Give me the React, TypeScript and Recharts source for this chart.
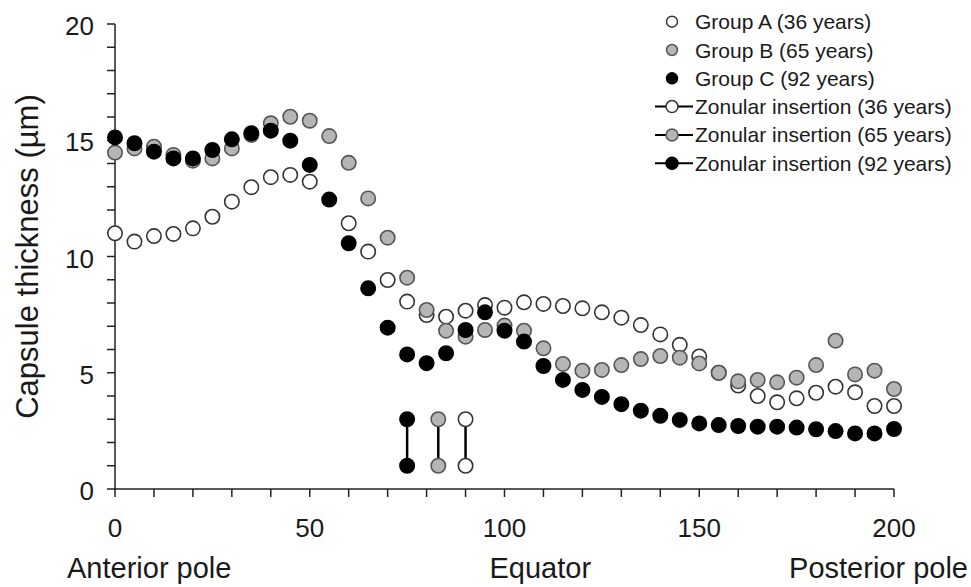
import { ScatterChart, Scatter, XAxis, YAxis } from "recharts"

// distance along the capsule, every 5 units
const positions = [
  0, 5, 10, 15, 20, 25, 30, 35, 40, 45, 50, 55, 60, 65, 70, 75, 80, 85, 90, 95, 100,
  105, 110, 115, 120, 125, 130, 135, 140, 145, 150, 155, 160, 165, 170, 175, 180,
  185, 190, 195, 200
]

const groupA: (number | null)[] = [
  11.0, 10.64, 10.88, 10.97, 11.21, 11.71, 12.36, 12.98, 13.41, 13.51, 13.22, null,
  11.43, 10.21, 8.99, 8.06, 7.48, 7.41, 7.67, 7.91, 7.8, 8.03, 7.96, 7.87, 7.77, 7.6,
  7.37, 7.05, 6.65, 6.2, 5.7, 5.0, 4.45, 4.0, 3.73, 3.9, 4.14, 4.4, 4.16, 3.57, 3.57
]

const groupB: (number | null)[] = [
  14.47, 14.65, 14.72, 14.37, 14.12, 14.22, 14.65, 15.23, 15.73, 16.01, 15.84, 15.18,
  14.03, 12.5, 10.81, 9.09, 7.7, 6.81, 6.55, 6.84, 7.03, 6.81, 6.05, 5.38, 5.09, 5.12,
  5.33, 5.59, 5.72, 5.65, 5.4, 5.0, 4.63, 4.69, 4.59, 4.79, 5.33, 6.38, 4.93, 5.09, 4.3
]

const groupC: (number | null)[] = [
  15.12, 14.87, 14.51, 14.22, 14.22, 14.58, 15.04, 15.3, 15.41, 14.98, 13.94, 12.45,
  10.57, 8.63, 6.94, 5.79, 5.41, 5.84, 6.84, 7.6, 6.81, 6.34, 5.29, 4.69, 4.26, 3.96,
  3.65, 3.37, 3.15, 2.97, 2.82, 2.75, 2.71, 2.68, 2.68, 2.64, 2.57, 2.49, 2.39, 2.39, 2.58
]

// zonular insertion: position and thickness range (36, 65, 92 years)
const zonularX = [90, 83, 75]
const zonularRange = [1, 3]

const xTicks = [0, 10, 20, 30, 40, 50, 60, 70, 80, 90, 100, 110, 120, 130, 140, 150, 160, 170, 180, 190, 200]
const yTicks = [0, 1, 2, 3, 4, 5, 6, 7, 8, 9, 10, 11, 12, 13, 14, 15, 16, 17, 18, 19, 20]

const FONT = "'Liberation Sans', Arial, sans-serif"
const TEXT = "#1a1a1a"

const styles = [
  { fill: "#ffffff", stroke: "#333333" },
  { fill: "#b5b5b5", stroke: "#555555" },
  { fill: "#000000", stroke: "#000000" }
]

const legendItems = [
  { label: "Group A (36 years)", style: 0, line: false },
  { label: "Group B (65 years)", style: 1, line: false },
  { label: "Group C (92 years)", style: 2, line: false },
  { label: "Zonular insertion (36 years)", style: 0, line: true },
  { label: "Zonular insertion (65 years)", style: 1, line: true },
  { label: "Zonular insertion (92 years)", style: 2, line: true }
]

const toPoints = (vals: (number | null)[]) =>
  positions
    .map((x, i) => ({ x, y: vals[i] }))
    .filter((p) => p.y !== null)

const dot = (idx: number) => (props: any) => (
  <circle
    cx={props.cx}
    cy={props.cy}
    r={7.2}
    fill={styles[idx].fill}
    stroke={styles[idx].stroke}
    strokeWidth={1.6}
  />
)

const XTick = (props: any) => {
  const { x, y, payload } = props
  if (payload.value % 50 !== 0) return <g />
  return (
    <text x={x} y={y + 38} textAnchor="middle" fontSize={26} fontFamily={FONT} fill={TEXT}>
      {payload.value}
    </text>
  )
}

const YTick = (props: any) => {
  const { x, y, payload } = props
  if (payload.value % 5 !== 0) return <g />
  return (
    <text x={x - 11} y={y + 11} textAnchor="end" fontSize={26} fontFamily={FONT} fill={TEXT}>
      {payload.value}
    </text>
  )
}

const PoleLabels = (props: any) => {
  const { x, y, width } = props.viewBox
  const base = y + 89
  const textProps = { fontSize: 29, fontFamily: FONT, fill: TEXT }
  return (
    <g>
      <text x={x - 48} y={base} textAnchor="start" {...textProps}>Anterior pole</text>
      <text x={x + width / 2 - 15} y={base} textAnchor="start" {...textProps}>Equator</text>
      <text x={x + width + 74} y={base} textAnchor="end" {...textProps}>Posterior pole</text>
    </g>
  )
}

const YLabel = (props: any) => {
  const { y, height } = props.viewBox
  const cy = y + height / 2
  return (
    <text
      x={38}
      y={cy}
      transform={`rotate(-90, 38, ${cy})`}
      textAnchor="middle"
      fontSize={31}
      fontFamily={FONT}
      fill={TEXT}
    >
      Capsule thickness (µm)
    </text>
  )
}

function ChartLegend() {
  return (
    <svg
      width={331}
      height={190}
      style={{ position: "absolute", left: 640, top: 0 }}
    >
      {legendItems.map((item, i) => {
        const cy = 21.7 + i * 28.3
        const s = styles[item.style]
        return (
          <g key={item.label}>
            {item.line && <line x1={15} x2={53} y1={cy} y2={cy} stroke="#000" strokeWidth={2} />}
            <circle
              cx={32}
              cy={cy}
              r={item.line ? 6 : 5.5}
              fill={s.fill}
              stroke={s.stroke}
              strokeWidth={1.5}
            />
            <text x={55} y={cy + 7.5} fontSize={21} fontFamily={FONT} fill={TEXT}>
              {item.label}
            </text>
          </g>
        )
      })}
    </svg>
  )
}

export default function App() {
  const zonular = zonularX.map((x) => zonularRange.map((y) => ({ x, y })))

  return (
    <div style={{ position: "absolute", left: 0, top: 0, width: 971, height: 587, background: "#fff" }}>
      <ScatterChart width={971} height={587} margin={{ top: 24, right: 77, left: 0, bottom: 0 }}>
        <XAxis
          type="number"
          dataKey="x"
          domain={[0, 200]}
          ticks={xTicks}
          interval={0}
          height={98}
          tickSize={8}
          tick={<XTick />}
          axisLine={{ stroke: "#222", strokeWidth: 1.5 }}
          tickLine={{ stroke: "#222", strokeWidth: 1.5 }}
          label={<PoleLabels />}
        />
        <YAxis
          type="number"
          dataKey="y"
          domain={[0, 20]}
          ticks={yTicks}
          interval={0}
          width={115}
          tickSize={8}
          tick={<YTick />}
          axisLine={{ stroke: "#222", strokeWidth: 1.5 }}
          tickLine={{ stroke: "#222", strokeWidth: 1.5 }}
          label={<YLabel />}
        />
        <Scatter name="Group A (36 years)" data={toPoints(groupA)} shape={dot(0)} isAnimationActive={false} />
        <Scatter name="Group B (65 years)" data={toPoints(groupB)} shape={dot(1)} isAnimationActive={false} />
        <Scatter name="Group C (92 years)" data={toPoints(groupC)} shape={dot(2)} isAnimationActive={false} />
        {zonular.map((pts, i) => (
          <Scatter
            key={`zon-${i}`}
            name={legendItems[3 + i].label}
            data={pts}
            line={{ stroke: "#000", strokeWidth: 2.5 }}
            shape={dot(i)}
            isAnimationActive={false}
          />
        ))}
      </ScatterChart>
      <ChartLegend />
    </div>
  )
}
